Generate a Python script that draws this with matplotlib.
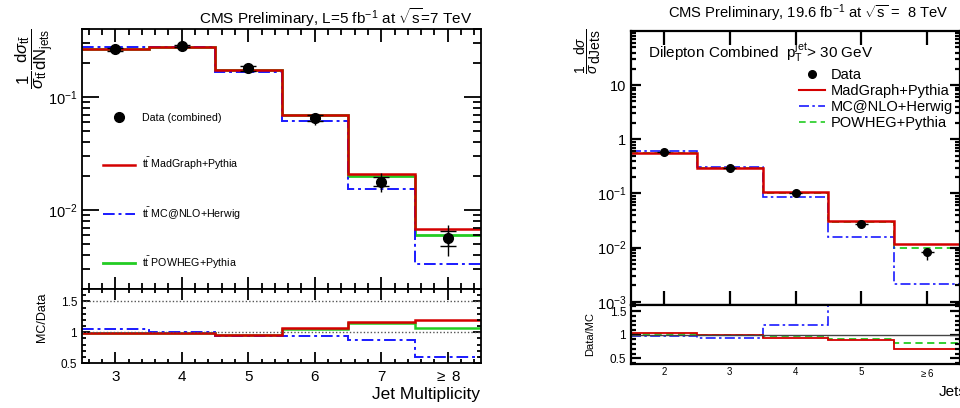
"""Two CMS-style normalised jet multiplicity plots with MC ratio panels."""

import matplotlib

matplotlib.use('Agg')
import matplotlib.pyplot as plt
import numpy as np
from matplotlib.ticker import FixedLocator, MultipleLocator, NullFormatter

plt.rcParams['font.family'] = ['Liberation Sans', 'DejaVu Sans']
plt.rcParams['mathtext.fontset'] = 'custom'
plt.rcParams['mathtext.rm'] = 'Liberation Sans'
plt.rcParams['mathtext.it'] = 'Liberation Sans:italic'
plt.rcParams['mathtext.bf'] = 'Liberation Sans:bold'

# --- left: 7 TeV, l+jets ---------------------------------------------------
left_bins = [3, 4, 5, 6, 7, 8]
left_ticklabels = ['3', '4', '5', '6', '7', r'$\geq$ 8']
left_data = [0.264, 0.282, 0.180, 0.0648, 0.0178, 0.0056]
left_stat_lo = [0.006, 0.006, 0.009, 0.0031, 0.0014, 0.0008]
left_stat_hi = [0.006, 0.006, 0.008, 0.0045, 0.0020, 0.0009]
left_tot_lo = [0.010, 0.010, 0.012, 0.0083, 0.0034, 0.0017]
left_tot_hi = [0.010, 0.010, 0.012, 0.0069, 0.0034, 0.0018]
left_madgraph = [0.265, 0.279, 0.172, 0.0698, 0.0209, 0.00675]
left_mcnlo = [0.275, 0.280, 0.166, 0.0613, 0.0153, 0.0033]
left_powheg = [0.265, 0.279, 0.172, 0.0690, 0.0201, 0.0060]
left_ratio_madgraph = [0.99, 0.98, 0.955, 1.065, 1.17, 1.20]
left_ratio_mcnlo = [1.045, 1.0, 0.93, 0.945, 0.865, 0.59]
left_ratio_powheg = [0.99, 0.98, 0.955, 1.055, 1.15, 1.07]
left_yticks = [0.01, 0.1]
left_yticklabels = [r'$10^{-2}$', r'$10^{-1}$']

# --- right: 8 TeV, dilepton ------------------------------------------------
right_bins = [2, 3, 4, 5, 6]
right_ticklabels = ['2', '3', '4', '5', r'$\geq$6']
right_data = [0.58, 0.295, 0.101, 0.0278, 0.0082]
right_err_lo = [0.02, 0.01, 0.004, 0.002, 0.0024]
right_err_hi = [0.02, 0.01, 0.004, 0.002, 0.0018]
right_madgraph = [0.565, 0.30, 0.107, 0.0311, 0.01167]
right_mcnlo = [0.60, 0.31, 0.0855, 0.0155, 0.00212]
right_powheg = [0.57, 0.30, 0.103, 0.0297, 0.00984]
right_ratio_madgraph = [1.035, 0.985, 0.94, 0.88, 0.69]
right_ratio_mcnlo = [0.965, 0.94, 1.21, 1.79, 3.87]
right_ratio_powheg = [1.02, 0.99, 0.97, 0.915, 0.83]
right_yticks = [1e-3, 1e-2, 1e-1, 1, 10]
right_yticklabels = [r'$10^{-3}$', r'$10^{-2}$', r'$10^{-1}$', '1', '10']

RED = '#d40000'
BLUE = '#1a1aff'
GREEN = '#22cc22'
DASHDOT = (0, (6, 2, 1.5, 2))


def edges_for(bins):
    b = np.asarray(bins, dtype=float)
    return np.append(b - 0.5, b[-1] + 0.5)


def style_axis(ax, major_len, minor_len, width):
    ax.tick_params(which='both', direction='in', top=True, right=True, width=width)
    ax.tick_params(which='major', length=major_len)
    ax.tick_params(which='minor', length=minor_len)
    for spine in ax.spines.values():
        spine.set_linewidth(width)


fig = plt.figure(figsize=(9.6, 4.08), dpi=100)

# ---------------------------------------------------------------- left top
ax1 = fig.add_axes([82 / 960, 1 - 289 / 408, 399 / 960, 260 / 408])
e1 = edges_for(left_bins)
ax1.stairs(left_powheg, e1, baseline=None, color=GREEN, lw=2.0)
ax1.stairs(left_mcnlo, e1, baseline=None, color=BLUE, lw=1.4, linestyle=DASHDOT)
ax1.stairs(left_madgraph, e1, baseline=None, color=RED, lw=1.8)
ax1.errorbar(left_bins, left_data, yerr=[left_tot_lo, left_tot_hi], fmt='none',
             ecolor='black', elinewidth=1.0)
ax1.errorbar(left_bins, left_data, yerr=[left_stat_lo, left_stat_hi], fmt='o',
             color='black', ms=7, elinewidth=1.0, capsize=6, capthick=1.0)
ax1.set_yscale('log')
ax1.set_xlim(2.5, 8.5)
ax1.set_ylim(0.002, 0.4)
ax1.yaxis.set_major_locator(FixedLocator(left_yticks))
ax1.set_yticklabels(left_yticklabels, fontsize=10.5)
ax1.yaxis.set_minor_formatter(NullFormatter())
ax1.set_xticks(left_bins)
ax1.xaxis.set_minor_locator(MultipleLocator(0.2))
ax1.tick_params(labelbottom=False)
style_axis(ax1, 12, 6, 1.3)
ax1.tick_params(axis='x', which='major', length=9)
ax1.tick_params(axis='x', which='minor', length=4)

h_data = ax1.plot([], [], 'o', color='black', ms=7, label='Data (combined)')[0]
h_mg = ax1.plot([], [], color=RED, lw=1.8, label=r'$\mathrm{t\bar{t}}$ MadGraph+Pythia')[0]
h_mc = ax1.plot([], [], color=BLUE, lw=1.4, ls=DASHDOT, label=r'$\mathrm{t\bar{t}}$ MC@NLO+Herwig')[0]
h_pw = ax1.plot([], [], color=GREEN, lw=2.0, label=r'$\mathrm{t\bar{t}}$ POWHEG+Pythia')[0]
ax1.legend(handles=[h_data, h_mg, h_mc, h_pw], loc='upper left',
           bbox_to_anchor=(0.04, 0.697), frameon=False, fontsize=7.7,
           handlelength=3.0, handletextpad=0.6, labelspacing=3.1, borderpad=0)

fig.text(472 / 960, 1 - 18 / 408,
         r'CMS Preliminary, L=5 fb$^{-1}$ at $\sqrt{\mathrm{s}}$=7 TeV',
         ha='right', va='center', fontsize=11)
fig.text(35 / 960, 1 - 59 / 408,
         r'$\dfrac{1}{\sigma_{\mathrm{t\bar{t}}}}\dfrac{\mathrm{d}\sigma_{\mathrm{t\bar{t}}}}{\mathrm{dN_{jets}}}$',
         rotation=90, ha='center', va='center', fontsize=12)

# ---------------------------------------------------------------- left ratio
ax2 = fig.add_axes([82 / 960, 1 - 363 / 408, 399 / 960, 74 / 408])
ax2.axhline(1.5, color='#555555', lw=1.0, ls=(0, (1, 1.5)))
ax2.axhline(1.0, color='#555555', lw=1.0, ls=(0, (1, 1.5)))
ax2.stairs(left_ratio_powheg, e1, baseline=None, color=GREEN, lw=1.8)
ax2.stairs(left_ratio_mcnlo, e1, baseline=None, color=BLUE, lw=1.4, linestyle=DASHDOT)
ax2.stairs(left_ratio_madgraph, e1, baseline=None, color=RED, lw=1.8)
ax2.set_xlim(2.5, 8.5)
ax2.set_ylim(0.5, 1.7)
ax2.set_yticks([0.5, 1.0, 1.5])
ax2.set_yticklabels(['0.5', '1', '1.5'], fontsize=8.5)
ax2.yaxis.set_minor_locator(MultipleLocator(0.1))
ax2.set_xticks(left_bins)
ax2.set_xticklabels(left_ticklabels, fontsize=11)
ax2.xaxis.set_minor_locator(MultipleLocator(0.2))
style_axis(ax2, 6, 3, 1.3)
ax2.tick_params(axis='x', which='major', length=8, pad=5)
ax2.set_ylabel('MC/Data', fontsize=9)
ax2.yaxis.set_label_coords(-0.085, 0.62)
fig.text(480 / 960, 1 - 395 / 408, 'Jet Multiplicity', ha='right', va='center', fontsize=12.5)

# ---------------------------------------------------------------- right top
ax3 = fig.add_axes([631 / 960, 1 - 305 / 408, 329 / 960, 274 / 408])
e3 = edges_for(right_bins)
ax3.stairs(right_powheg, e3, baseline=None, color=GREEN, lw=1.3, linestyle=(0, (4, 2.5)))
ax3.stairs(right_mcnlo, e3, baseline=None, color=BLUE, lw=1.2, linestyle=DASHDOT)
ax3.stairs(right_madgraph, e3, baseline=None, color=RED, lw=1.8)
ax3.errorbar(right_bins, right_data, yerr=[right_err_lo, right_err_hi], xerr=0.1,
             fmt='o', color='black', ms=5.5, elinewidth=1.0)
ax3.set_yscale('log')
ax3.set_xlim(1.5, 6.5)
ax3.set_ylim(8.7e-4, 100)
ax3.yaxis.set_major_locator(FixedLocator(right_yticks))
ax3.set_yticklabels(right_yticklabels, fontsize=10.5)
ax3.yaxis.set_minor_formatter(NullFormatter())
ax3.set_xticks(right_bins)
ax3.tick_params(labelbottom=False)
style_axis(ax3, 7, 3.5, 1.6)
ax3.tick_params(axis='x', which='major', length=10)

g_data = ax3.plot([], [], 'o', color='black', ms=5.5, label='Data')[0]
g_mg = ax3.plot([], [], color=RED, lw=1.5, label='MadGraph+Pythia')[0]
g_mc = ax3.plot([], [], color=BLUE, lw=1.2, ls=DASHDOT, label='MC@NLO+Herwig')[0]
g_pw = ax3.plot([], [], color=GREEN, lw=1.2, ls=(0, (4, 2.5)), label='POWHEG+Pythia')[0]
ax3.legend(handles=[g_data, g_mg, g_mc, g_pw], loc='upper left',
           bbox_to_anchor=(0.487, 0.89), frameon=False, fontsize=10.5,
           handlelength=1.8, handletextpad=0.4, labelspacing=0.12, borderpad=0)
ax3.text(648 / 960, 1 - 52 / 408, r'Dilepton Combined  $\mathrm{p_{T}^{jet}}$> 30 GeV',
         transform=fig.transFigure, ha='left', va='center', fontsize=11)

fig.text(668 / 960, 1 - 13 / 408,
         r'CMS Preliminary, 19.6 fb$^{-1}$ at $\sqrt{\mathrm{s}}$ =  8 TeV',
         ha='left', va='center', fontsize=10.6)
fig.text(588 / 960, 1 - 51 / 408,
         r'$\dfrac{1}{\sigma}\dfrac{\mathrm{d}\sigma}{\mathrm{dJets}}$',
         rotation=90, ha='center', va='center', fontsize=10)

# ---------------------------------------------------------------- right ratio
ax4 = fig.add_axes([631 / 960, 1 - 364 / 408, 329 / 960, 59 / 408])
ax4.axhline(1.0, color='#444444', lw=1.0)
ax4.stairs(right_ratio_powheg, e3, baseline=None, color=GREEN, lw=1.3, linestyle=(0, (4, 2.5)))
ax4.stairs(right_ratio_mcnlo, e3, baseline=None, color=BLUE, lw=1.2, linestyle=DASHDOT)
ax4.stairs(right_ratio_madgraph, e3, baseline=None, color=RED, lw=1.3)
ax4.set_xlim(1.5, 6.5)
ax4.set_ylim(0.38, 1.63)
ax4.set_yticks([0.5, 1.0, 1.5])
ax4.set_yticklabels(['0.5', '1', '1.5'], fontsize=8.5)
ax4.yaxis.set_minor_locator(MultipleLocator(0.1))
ax4.set_xticks(right_bins)
ax4.set_xticklabels(right_ticklabels, fontsize=7)
style_axis(ax4, 7, 3.5, 1.6)
ax4.tick_params(axis='x', which='major', length=0, pad=2)
ax4.set_ylabel('Data/MC', fontsize=8)
ax4.yaxis.set_label_coords(-0.11, 0.5)
fig.text(939 / 960, 1 - 392 / 408, 'Jets', ha='left', va='center', fontsize=11)

fig.savefig('out.png', dpi=100)
